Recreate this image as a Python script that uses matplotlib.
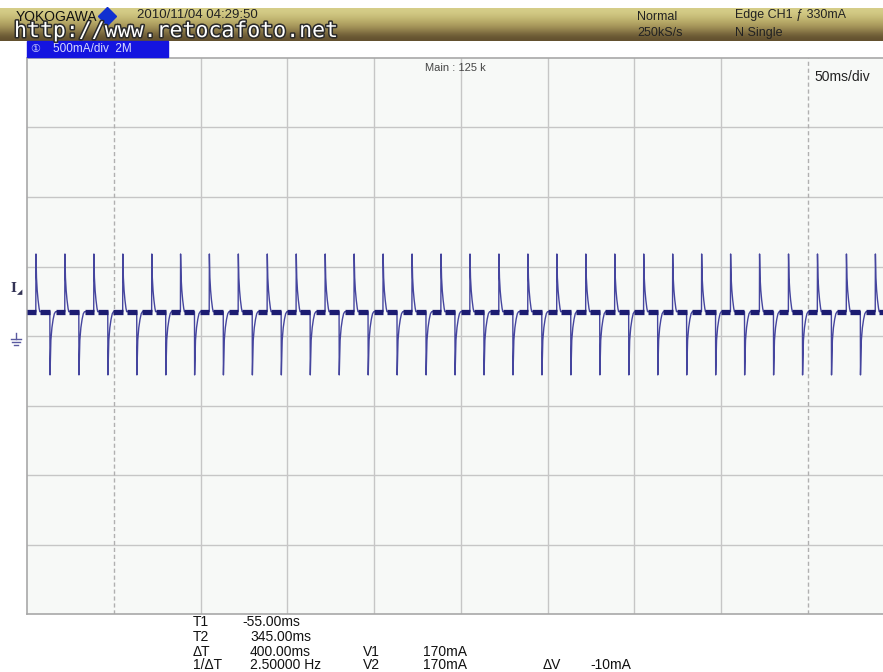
import matplotlib
matplotlib.use('Agg')
import matplotlib.pyplot as plt
import matplotlib.patheffects as pe
import numpy as np

#--------
#data

#time of every up spike (ms, trigger at 0)
spike_t = [-100.0, -83.3, -66.6, -49.9, -33.2, -16.6, 0.0, 16.7, 33.4, 50.1,
           66.8, 83.5, 100.2, 116.9, 133.6, 150.3, 167.0, 183.7, 200.4, 217.1,
           233.8, 250.5, 267.2, 283.9, 300.6, 317.3, 334.0, 350.7, 367.4, 384.1]

#one cycle of the current, relative to its up spike (ms, mA)
shape_dt = [-0.1, 0.0, 0.3, 0.7, 1.2, 1.8, 2.2, 8.0, 8.1, 8.6, 9.2, 9.9, 10.6, 11.3]
shape_ma = [175, 590, 420, 330, 260, 200, 175, 175, -280, -30, 60, 120, 160, 175]
base_ma = 175

#cursors and screen settings
t1_ms = -55.0
t2_ms = 345.0
t_left = -105.0
ms_div = 50
ma_div = 500

#readout texts
cur_labels = ['T1', 'T2', '\u0394T', '1/\u0394T']
cur_values = ['-55.00ms', '345.00ms', '400.00ms', '2.50000 Hz']

#--------
#build the trace
t = []
cur = []
for s in spike_t:
    for dt, v in zip(shape_dt, shape_ma):
        t.append(s + dt)
        cur.append(v)
t = np.array(t)
cur = np.array(cur)

spk = np.array(spike_t)
seg_start = np.concatenate([[t_left], spk + 2.2, spk + 11.3])
seg_end = np.concatenate([[spk[0] - 0.1], spk + 8.0, np.append(spk[1:] - 0.1, 400)])
seg_y = np.full(len(seg_start), base_ma)

#--------
#figure
W, H = 883, 672
fig = plt.figure(figsize=(W / 100, H / 100), dpi=100)
fig.patch.set_facecolor('white')

px = 86.7  #pixels per division
x0, y_top, y_bot = 27.3, 58, 614
t_right = t_left + (W - x0) / px * ms_div

ax = fig.add_axes([x0 / W, (H - y_bot) / H, (W - x0) / W, (y_bot - y_top) / H])
ax.set_facecolor('#f7f9f7')
ax.set_xlim(t_left, t_right)
ax.set_ylim(-4 * ma_div, 4 * ma_div)

for k in range(2, 10):
    tx = t_left + k * ms_div
    if tx != t2_ms:
        ax.axvline(tx, color='#c6c6c6', lw=1, zorder=1)
for k in range(-3, 4):
    ax.axhline(k * ma_div, color='#c6c6c6', lw=1, zorder=1)
for tc in (t1_ms, t2_ms):
    ax.axvline(tc, color='#b0b0b0', lw=1, ls=(0, (3, 2)), zorder=1)

ax.plot(t, cur, color='#45459e', lw=1.0, zorder=3)
ax.hlines(seg_y, seg_start, seg_end, color='#1c1c72', lw=3.8, zorder=4)

ax.set_xticks([])
ax.set_yticks([])
for side in ('left', 'top', 'bottom'):
    ax.spines[side].set_color('#a8a8a8')
    ax.spines[side].set_linewidth(1.2)
ax.spines['right'].set_visible(False)

#--------
#overlay in pixel coordinates for the screen furniture
ov = fig.add_axes([0, 0, 1, 1], zorder=10)
ov.axis('off')
ov.patch.set_alpha(0)

#header bar
grad = np.array([[0.84, 0.81, 0.54], [0.74, 0.69, 0.42], [0.62, 0.55, 0.33], [0.38, 0.31, 0.18]])
ov.imshow(grad[:, None, :], extent=[0, W, 41, 8], aspect='auto', interpolation='bicubic', zorder=1)
ov.set_xlim(0, W)
ov.set_ylim(H, 0)

sans = 'Liberation Sans'
ov.text(16, 17, 'YOKOGAWA', family=sans, fontsize=10, color='#111111', va='center', zorder=2)
ov.plot([107], [16], marker='D', ms=9, color='#1030d0', zorder=2)
ov.text(137, 15, '2010/11/04 04:29:50', family=sans, fontsize=9.5, color='#222222', va='center', zorder=2)
ov.text(637, 17, 'Normal', family=sans, fontsize=9, color='#222222', va='center', zorder=2)
ov.text(637, 33, '250kS/s', family=sans, fontsize=9, color='#222222', va='center', zorder=2)
ov.text(735, 15, 'Edge CH1 \u0192 330mA', family=sans, fontsize=9, color='#222222', va='center', zorder=2)
ov.text(735, 33, 'N Single', family=sans, fontsize=9, color='#222222', va='center', zorder=2)
ov.text(14, 31, 'http://www.retocafoto.net', family='DejaVu Sans Mono', fontsize=15.5,
        color='white', va='center', zorder=3,
        path_effects=[pe.withStroke(linewidth=2.2, foreground='#2a2a2a')])

#channel box
ov.add_patch(plt.Rectangle((27, 41), 141, 16, color='#1414e0', zorder=2))
ov.text(30, 49, '\u2460', family=['DejaVu Sans', 'Noto Sans CJK JP'], fontsize=8,
        color='#d8d8ff', va='center', zorder=3)
ov.text(53, 49, '500mA/div  2M', family=sans, fontsize=8.5, color='#d8d8ff', va='center', zorder=3)

ov.text(425, 68, 'Main : 125 k', family=sans, fontsize=8, color='#444444', va='center')
ov.text(870, 77, '50ms/div', family=sans, fontsize=10, color='#222222', va='center', ha='right')

#trigger level and ground marks on the left
ov.text(10, 289, 'I', family='DejaVu Serif', fontsize=9, fontweight='bold', color='#333355', va='center')
ov.text(17, 292, '\u25e2', family='DejaVu Sans', fontsize=5, color='#333355', va='center')
ov.plot([16, 16], [333, 339], color='#5a5aa0', lw=1)
ov.plot([11, 21], [339, 339], color='#5a5aa0', lw=1)
ov.plot([12, 20], [342, 342], color='#5a5aa0', lw=1)
ov.plot([14, 18], [345, 345], color='#5a5aa0', lw=1)

#cursor readout
rows_y = [622.5, 637, 651.5, 665]
for lab, val, yy in zip(cur_labels, cur_values, rows_y):
    ov.text(193, yy, lab, family=sans, fontsize=10, color='#111111', va='center')
    xv = 242 if val.startswith('-') else 250
    ov.text(xv, yy, val, family=sans, fontsize=10, color='#111111', va='center')
ov.text(363, rows_y[2], 'V1', family=sans, fontsize=10, color='#111111', va='center')
ov.text(423, rows_y[2], '170mA', family=sans, fontsize=10, color='#111111', va='center')
ov.text(363, rows_y[3], 'V2', family=sans, fontsize=10, color='#111111', va='center')
ov.text(423, rows_y[3], '170mA', family=sans, fontsize=10, color='#111111', va='center')
ov.text(543, rows_y[3], '\u0394V', family=sans, fontsize=10, color='#111111', va='center')
ov.text(590, rows_y[3], '-10mA', family=sans, fontsize=10, color='#111111', va='center')

fig.savefig('out.png', dpi=100)
